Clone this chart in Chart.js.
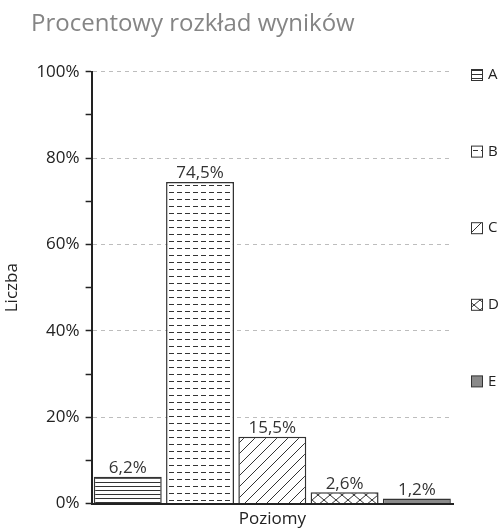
<!DOCTYPE html>
<html>
<head>
<meta charset="utf-8">
<script src="https://cdn.jsdelivr.net/npm/chart.js@4"></script>
<style>
  html, body { margin: 0; padding: 0; background: #fff; }
  #wrap { width: 502px; height: 529px; }
</style>
</head>
<body>
<div id="wrap"><canvas id="chart"></canvas></div>
<script>
// data
const categories = ["A", "B", "C", "D", "E"];
const percentages = [6.2, 74.5, 15.5, 2.6, 1.2];
const yTicks = [0, 20, 40, 60, 80, 100];

// patterns
function makePattern(w, h, draw) {
    const c = document.createElement("canvas");
    c.width = w;
    c.height = h;
    const g = c.getContext("2d");
    g.fillStyle = "#fff";
    g.fillRect(0, 0, w, h);
    g.strokeStyle = "#333";
    g.lineWidth = 1;
    draw(g);
    return g.createPattern(c, "repeat");
}

const patterns = [
    makePattern(4, 4, g => { g.beginPath(); g.moveTo(0, 2.5); g.lineTo(4, 2.5); g.stroke(); }),
    makePattern(8, 7, g => { g.beginPath(); g.moveTo(1, 3.5); g.lineTo(6, 3.5); g.stroke(); }),
    makePattern(11, 11, g => {
        g.beginPath();
        g.moveTo(0, 11); g.lineTo(11, 0);
        g.moveTo(-1, 1); g.lineTo(1, -1);
        g.moveTo(10, 12); g.lineTo(12, 10);
        g.stroke();
    }),
    makePattern(12, 10, g => {
        g.beginPath();
        g.moveTo(0, 0); g.lineTo(12, 10);
        g.moveTo(0, 10); g.lineTo(12, 0);
        g.stroke();
    }),
    "#8a8a8a"
];

const fontFamily = "'Open Sans', sans-serif";

// labels above the bars
const valueLabels = {
    id: "valueLabels",
    afterDatasetsDraw(chart) {
        const ctx = chart.ctx;
        const meta = chart.getDatasetMeta(0);
        ctx.save();
        ctx.font = "17px " + fontFamily;
        ctx.fillStyle = "#333";
        ctx.textAlign = "center";
        ctx.textBaseline = "bottom";
        meta.data.forEach((bar, i) => {
            const txt = percentages[i].toFixed(1).replace(".", ",") + "%";
            ctx.fillText(txt, bar.x, bar.y);
        });
        ctx.restore();
    }
};

// title sits a bit right of the canvas edge, legend is a spaced column on the right
const sideLegend = {
    id: "sideLegend",
    afterLayout(chart) {
        chart.titleBlock.left += 29;
        chart.titleBlock.right += 29;
    },
    afterDraw(chart) {
        const ctx = chart.ctx;
        ctx.save();
        ctx.font = "15px " + fontFamily;
        ctx.textBaseline = "middle";
        ctx.textAlign = "left";
        categories.forEach((c, i) => {
            const y = 75 + i * 76.6;
            ctx.fillStyle = patterns[i];
            ctx.fillRect(471.5, y - 5.5, 11, 11);
            ctx.strokeStyle = "#333";
            ctx.lineWidth = 1;
            ctx.strokeRect(471.5, y - 5.5, 11, 11);
            ctx.fillStyle = "#222";
            ctx.fillText(c, 488, y);
        });
        ctx.restore();
    }
};

new Chart(document.getElementById("chart"), {
    type: "bar",
    data: {
        labels: categories,
        datasets: [{
            data: percentages,
            backgroundColor: patterns,
            borderColor: "#333",
            borderWidth: 1.5,
            categoryPercentage: 1,
            barPercentage: 0.94
        }]
    },
    options: {
        responsive: true,
        maintainAspectRatio: false,
        animation: false,
        layout: { padding: { top: 0, right: 49, left: 2, bottom: 0 } },
        plugins: {
            title: {
                display: true,
                text: "Procentowy rozkład wyników",
                align: "start",
                color: "#858585",
                font: { family: fontFamily, size: 24, weight: "normal" },
                padding: { top: 10, bottom: 33 }
            },
            legend: { display: false },
            tooltip: { enabled: false }
        },
        scales: {
            x: {
                ticks: { display: false },
                grid: { display: false, drawTicks: false },
                border: { color: "#222", width: 2 },
                title: {
                    display: true,
                    text: "Poziomy",
                    color: "#222",
                    font: { family: fontFamily, size: 17 },
                    padding: { top: 5, bottom: 0 }
                }
            },
            y: {
                min: yTicks[0],
                max: yTicks[yTicks.length - 1],
                ticks: {
                    stepSize: 10,
                    color: "#222",
                    font: { family: fontFamily, size: 17 },
                    padding: 6,
                    callback: v => (yTicks.includes(v) ? v + "%" : "")
                },
                grid: {
                    color: c => (c.tick && yTicks.includes(c.tick.value) && c.tick.value > 0 ? "#bdbdbd" : "rgba(0,0,0,0)"),
                    tickColor: "#222",
                    tickLength: 6,
                    tickWidth: 1.5,
                    tickBorderDash: [],
                    lineWidth: 1
                },
                border: { color: "#222", width: 2, dash: [4, 4] },
                title: {
                    display: true,
                    text: "Liczba",
                    color: "#222",
                    font: { family: fontFamily, size: 17 },
                    padding: { top: 0, bottom: 8 }
                }
            }
        }
    },
    plugins: [valueLabels, sideLegend]
});
</script>
</body>
</html>
